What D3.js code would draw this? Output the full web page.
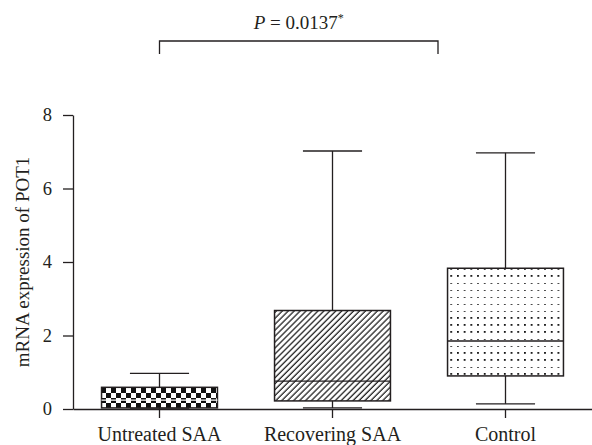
<!DOCTYPE html>
<html>
<head>
<meta charset="utf-8">
<script src="https://cdn.jsdelivr.net/npm/d3@7"></script>
<style>
  body { margin: 0; background: #fff; }
</style>
</head>
<body>
<script>
// Chart data
var groups = ["Untreated SAA", "Recovering SAA", "Control"];
var mins = [0.0, 0.03, 0.14];
var q1s = [0.03, 0.22, 0.9];
var medians = [0.24, 0.76, 1.85];
var q3s = [0.59, 2.68, 3.83];
var maxs = [0.97, 7.02, 6.97];
var fills = ["checker", "hatch", "dots"];
var yTicks = [0, 2, 4, 6, 8];

var svgWidth = 592;
var svgHeight = 445;
var margin = { top: 115, right: 0, bottom: 36, left: 73 };
var width = svgWidth - margin.left - margin.right;
var height = svgHeight - margin.top - margin.bottom;
var ink = "#231f20";
var serif = "Liberation Serif";

var svg = d3.select("body")
            .append("svg")
            .attr("width", svgWidth)
            .attr("height", svgHeight)
            .attr("font-family", serif);

// patterns for the box fills
var defs = svg.append("defs");

var checker = defs.append("pattern")
    .attr("id", "checker")
    .attr("patternUnits", "userSpaceOnUse")
    .attr("width", 10).attr("height", 10)
    .attr("patternTransform", "translate(103, 388)");
checker.append("rect").attr("width", 10).attr("height", 10).attr("fill", "#fff");
checker.append("rect").attr("width", 5).attr("height", 5).attr("fill", "#111");
checker.append("rect").attr("x", 5).attr("y", 5).attr("width", 5).attr("height", 5).attr("fill", "#111");

var hatch = defs.append("pattern")
    .attr("id", "hatch")
    .attr("patternUnits", "userSpaceOnUse")
    .attr("width", 4.2).attr("height", 4.2)
    .attr("patternTransform", "rotate(45)");
hatch.append("rect").attr("width", 4.2).attr("height", 4.2).attr("fill", "#fff");
hatch.append("line")
    .attr("x1", 1).attr("x2", 1).attr("y1", 0).attr("y2", 4.2)
    .attr("stroke", "#111").attr("stroke-width", 1.2);

var dots = defs.append("pattern")
    .attr("id", "dots")
    .attr("patternUnits", "userSpaceOnUse")
    .attr("width", 6.7).attr("height", 7)
    .attr("patternTransform", "translate(451, 272)");
dots.append("rect").attr("width", 6.7).attr("height", 7).attr("fill", "#fff");
dots.append("rect").attr("width", 1.8).attr("height", 1.8).attr("fill", "#111");

var chartGroup = svg.append("g")
                    .attr("transform", `translate(${margin.left}, ${margin.top})`);

// scales
var xScale = d3.scaleBand()
               .domain(groups)
               .range([0, width])
               .paddingInner(0.33)
               .paddingOuter(0.165);

var yScale = d3.scaleLinear()
               .domain([0, 8])
               .range([height, 0]);

var capWidth = xScale.bandwidth() * 0.51;

// boxes: whisker, caps, box, median
var boxes = chartGroup.selectAll(".box")
    .data(groups)
    .enter()
    .append("g")
    .attr("class", "box");

boxes.append("line")
    .attr("x1", d => xScale(d) + xScale.bandwidth() / 2)
    .attr("x2", d => xScale(d) + xScale.bandwidth() / 2)
    .attr("y1", (d, i) => yScale(mins[i]))
    .attr("y2", (d, i) => yScale(maxs[i]))
    .attr("stroke", ink).attr("stroke-width", 1.3);

boxes.append("line")
    .attr("x1", d => xScale(d) + xScale.bandwidth() / 2 - capWidth / 2)
    .attr("x2", d => xScale(d) + xScale.bandwidth() / 2 + capWidth / 2)
    .attr("y1", (d, i) => yScale(maxs[i]))
    .attr("y2", (d, i) => yScale(maxs[i]))
    .attr("stroke", ink).attr("stroke-width", 1.3);

boxes.append("line")
    .attr("x1", d => xScale(d) + xScale.bandwidth() / 2 - capWidth / 2)
    .attr("x2", d => xScale(d) + xScale.bandwidth() / 2 + capWidth / 2)
    .attr("y1", (d, i) => yScale(mins[i]))
    .attr("y2", (d, i) => yScale(mins[i]))
    .attr("stroke", ink).attr("stroke-width", 1.3);

boxes.append("rect")
    .attr("x", d => xScale(d))
    .attr("y", (d, i) => yScale(q3s[i]))
    .attr("width", xScale.bandwidth())
    .attr("height", (d, i) => yScale(q1s[i]) - yScale(q3s[i]))
    .attr("fill", (d, i) => `url(#${fills[i]})`)
    .attr("stroke", ink).attr("stroke-width", 1.5);

boxes.append("line")
    .attr("x1", d => xScale(d))
    .attr("x2", d => xScale(d) + xScale.bandwidth())
    .attr("y1", (d, i) => yScale(medians[i]))
    .attr("y2", (d, i) => yScale(medians[i]))
    .attr("stroke", (d, i) => i == 0 ? "#fff" : ink)
    .attr("stroke-width", 1.3);

// axes
var leftAxis = d3.axisLeft(yScale).tickValues(yTicks).tickSize(10).tickSizeOuter(0).tickPadding(11);
var bottomAxis = d3.axisBottom(xScale).tickSize(9).tickSizeOuter(0).tickPadding(9);

var yAxisG = chartGroup.append("g").call(leftAxis);
var xAxisG = chartGroup.append("g")
                       .attr("transform", `translate(0, ${height})`)
                       .call(bottomAxis);

[yAxisG, xAxisG].forEach(function(g) {
    g.attr("font-family", serif);
    g.selectAll("path, line").attr("stroke", ink).attr("stroke-width", 1.3);
    g.selectAll("text").attr("fill", ink);
});
yAxisG.attr("font-size", 18.5);
xAxisG.attr("font-size", 20);

// y axis title
chartGroup.append("text")
          .attr("transform", "rotate(-90)")
          .attr("x", 0 - (height / 2))
          .attr("y", 0 - margin.left + 29)
          .attr("text-anchor", "middle")
          .attr("font-size", 19)
          .attr("fill", ink)
          .text("mRNA expression of POT1");

// significance bracket
var bracketX1 = xScale(groups[0]) + xScale.bandwidth() / 2;
var bracketX2 = 438 - margin.left;
chartGroup.append("path")
          .attr("d", `M${bracketX1},${54 - margin.top}V${41 - margin.top}H${bracketX2}V${54 - margin.top}`)
          .attr("fill", "none")
          .attr("stroke", ink)
          .attr("stroke-width", 1.3);

var pText = svg.append("text")
               .attr("x", (bracketX1 + bracketX2) / 2 + margin.left)
               .attr("y", 29)
               .attr("text-anchor", "middle")
               .attr("font-size", 19)
               .attr("fill", ink);
pText.append("tspan").attr("font-style", "italic").text("P");
pText.append("tspan").text(" = 0.0137");
pText.append("tspan").attr("dy", -7).attr("font-size", 12).text("*");
</script>
</body>
</html>
